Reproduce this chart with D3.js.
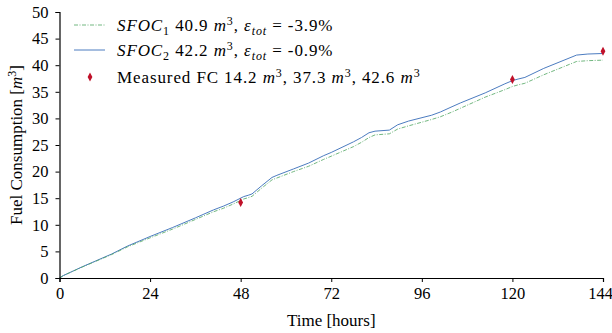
<!DOCTYPE html>
<html>
<head>
<meta charset="utf-8">
<script src="https://cdn.jsdelivr.net/npm/d3@7"></script>
<style>
  body { margin: 0; background: #fff; }
  text { font-family: "Liberation Serif", "DejaVu Serif", serif; fill: #000; }
</style>
</head>
<body>
<div id="chart"></div>
<script>
// time in hours, shared by both estimates
var hours = [0, 1, 6, 13.8, 18, 24, 30, 36, 40.8, 43.4, 46, 48.8, 50, 51, 53.5, 56.3, 57.6, 62, 66, 70, 72,
    77.9, 80, 82, 83.6, 87.4, 89.6, 92.5, 98.6, 100.9, 104, 106.2, 112.8, 118, 120, 121.5, 123.3, 128.3, 137, 140, 144];
var sfoc1 = [0, 0.45, 2.05, 4.4, 5.85, 7.55, 9.2, 11.0, 12.45, 13.1, 13.9, 14.85, 15.1, 15.35, 16.85, 18.45, 18.8, 20.0, 21.0, 22.3, 22.9,
    24.7, 25.5, 26.4, 26.9, 27.1, 28.0, 28.6, 29.8, 30.3, 31.2, 31.9, 34.0, 35.4, 36.0, 36.3, 36.6, 38.2, 40.7, 40.85, 40.95];
var sfoc2 = [0, 0.45, 2.1, 4.5, 6.0, 7.8, 9.5, 11.3, 12.8, 13.5, 14.3, 15.3, 15.55, 15.8, 17.3, 18.9, 19.3, 20.5, 21.6, 23.0, 23.6,
    25.6, 26.4, 27.3, 27.6, 27.8, 28.8, 29.5, 30.6, 31.2, 32.2, 32.9, 34.8, 36.5, 37.1, 37.4, 37.7, 39.4, 41.9, 42.1, 42.2];
var measuredHours = [48, 120, 144];
var measuredFC = [14.2, 37.3, 42.6];
var xTicks = [0, 24, 48, 72, 96, 120, 144];
var yTicks = [0, 5, 10, 15, 20, 25, 30, 35, 40, 45, 50];

var margin = {top: 12, right: 9, bottom: 55, left: 59.5},
    width = 612 - margin.left - margin.right,
    height = 333 - margin.top - margin.bottom;

var svg = d3.select("#chart").append("svg")
    .attr("width", 612)
    .attr("height", 333);

var g = svg.append("g")
    .attr("transform", "translate(" + margin.left + "," + margin.top + ")");

var x = d3.scaleLinear().domain([0, 144]).range([0, width]);
var y = d3.scaleLinear().domain([0, 50]).range([height, 0]);

var blue = "#4c7cc0", green = "#4ea45f", red = "#c0112a";

var line = d3.line()
    .x(function (d) { return x(d[0]); })
    .y(function (d) { return y(d[1]); });

g.append("path")
    .datum(hours.map(function (h, i) { return [h, sfoc2[i]]; }))
    .attr("d", line)
    .attr("fill", "none")
    .attr("stroke", blue)
    .attr("stroke-width", 1);

g.append("path")
    .datum(hours.map(function (h, i) { return [h, sfoc1[i]]; }))
    .attr("d", line)
    .attr("fill", "none")
    .attr("stroke", green)
    .attr("stroke-width", 0.8)
    .attr("stroke-dasharray", "4,1.5,1,1.5");

var diamond = "M0,-4.5L2.4,0L0,4.5L-2.4,0Z";
g.selectAll(".meas")
    .data(measuredHours)
    .enter().append("path")
    .attr("class", "meas")
    .attr("d", diamond)
    .attr("fill", red)
    .attr("transform", function (d, i) {
        return "translate(" + x(d) + "," + y(measuredFC[i]) + ")";
    });

// axes
var xAxis = g.append("g")
    .attr("transform", "translate(0," + height + ")")
    .call(d3.axisBottom(x).tickValues(xTicks).tickSize(4).tickPadding(5));
var yAxis = g.append("g")
    .call(d3.axisLeft(y).tickValues(yTicks).tickSize(4).tickPadding(7));

[xAxis, yAxis].forEach(function (a) {
    a.select(".domain").attr("stroke", "#000").attr("stroke-width", 1.2);
    a.selectAll(".tick line").attr("stroke", "#000").attr("stroke-width", 1);
    a.selectAll(".tick text")
        .style("font-family", "'Liberation Serif', serif")
        .style("font-size", "16.5px")
        .attr("fill", "#000");
});
// last x label sits on the window edge
xAxis.selectAll(".tick text").filter(function (d) { return d === 144; }).attr("dx", -3);

// axis labels
svg.append("text")
    .attr("x", margin.left + width / 2)
    .attr("y", 326)
    .attr("text-anchor", "middle")
    .style("font-size", "17px")
    .text("Time [hours]");

var yl = svg.append("text")
    .attr("transform", "translate(22," + (margin.top + height / 2) + ") rotate(-90)")
    .attr("text-anchor", "middle")
    .style("font-size", "17px");
yl.append("tspan").text("Fuel Consumption [");
yl.append("tspan").style("font-style", "italic").text("m");
yl.append("tspan").attr("dy", -6).style("font-size", "12px").text("3");
yl.append("tspan").attr("dy", 6).text("]");

// legend
var leg = svg.append("g");
var rows = [25, 50, 77];

leg.append("line").attr("x1", 74).attr("x2", 105).attr("y1", rows[0]).attr("y2", rows[0])
    .attr("stroke", green).attr("stroke-width", 0.8).attr("stroke-dasharray", "4,1.5,1,1.5");
leg.append("line").attr("x1", 74).attr("x2", 105).attr("y1", rows[1]).attr("y2", rows[1])
    .attr("stroke", blue).attr("stroke-width", 1);
leg.append("path").attr("d", diamond).attr("fill", red)
    .attr("transform", "translate(90," + rows[2] + ")");

function legendText(yy, parts) {
    var t = leg.append("text").attr("x", 117).attr("y", yy + 6)
        .style("font-size", "17px").style("letter-spacing", "0.9px");
    parts.forEach(function (p) {
        var s = t.append("tspan").text(p.t);
        if (p.i) s.style("font-style", "italic");
        if (p.dy) s.attr("dy", p.dy);
        if (p.fs) s.style("font-size", p.fs);
    });
}
legendText(rows[0], [
    {t: "SFOC", i: 1}, {t: "1", dy: 4, fs: "12px"}, {t: " 40.9 ", dy: -4},
    {t: "m", i: 1}, {t: "3", dy: -6, fs: "12px"}, {t: ", ", dy: 6},
    {t: "\u03b5", i: 1}, {t: "tot", i: 1, dy: 4, fs: "12px"}, {t: " = -3.9%", dy: -4}
]);
legendText(rows[1], [
    {t: "SFOC", i: 1}, {t: "2", dy: 4, fs: "12px"}, {t: " 42.2 ", dy: -4},
    {t: "m", i: 1}, {t: "3", dy: -6, fs: "12px"}, {t: ", ", dy: 6},
    {t: "\u03b5", i: 1}, {t: "tot", i: 1, dy: 4, fs: "12px"}, {t: " = -0.9%", dy: -4}
]);
legendText(rows[2], [
    {t: "Measured FC 14.2 "}, {t: "m", i: 1}, {t: "3", dy: -6, fs: "12px"},
    {t: ", 37.3 ", dy: 6}, {t: "m", i: 1}, {t: "3", dy: -6, fs: "12px"},
    {t: ", 42.6 ", dy: 6}, {t: "m", i: 1}, {t: "3", dy: -6, fs: "12px"}
]);
</script>
</body>
</html>
